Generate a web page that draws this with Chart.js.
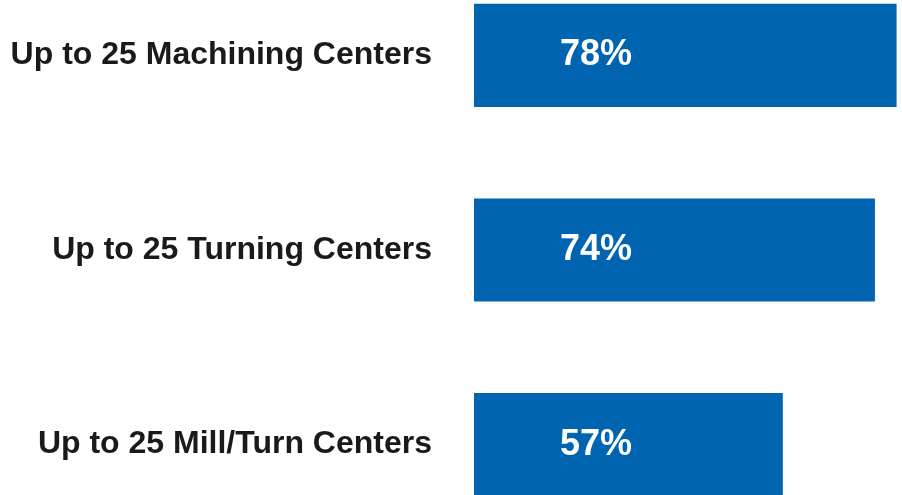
<!DOCTYPE html>
<html>
<head>
<meta charset="utf-8">
<script src="https://cdn.jsdelivr.net/npm/chart.js@4/dist/chart.umd.min.js"></script>
<style>
  html, body { margin: 0; padding: 0; background: #fff; overflow: hidden; }
  #myChart { position: absolute; left: 0; top: -42px; }
</style>
</head>
<body>
<canvas id="myChart" width="902" height="584"></canvas>
<script>
const categories = ['Up to 25 Machining Centers', 'Up to 25 Turning Centers', 'Up to 25 Mill/Turn Centers'];
const shares = [78, 74, 57];

// white percentage text drawn inside each bar, a fixed distance from its start
const valueLabels = {
  id: 'valueLabels',
  afterDatasetsDraw(chart) {
    const ctx = chart.ctx;
    const meta = chart.getDatasetMeta(0);
    ctx.save();
    ctx.fillStyle = '#ffffff';
    ctx.font = 'bold 36px "Liberation Sans", Arial, sans-serif';
    ctx.textAlign = 'left';
    ctx.textBaseline = 'middle';
    meta.data.forEach((bar, i) => {
      ctx.fillText(shares[i] + '%', bar.base + 86, bar.y);
    });
    ctx.restore();
  }
};

new Chart(document.getElementById('myChart').getContext('2d'), {
  type: 'bar',
  data: {
    labels: categories,
    datasets: [{
      data: shares,
      backgroundColor: '#0064b1',
      borderWidth: 0,
      barPercentage: 0.53,
      categoryPercentage: 1
    }]
  },
  options: {
    indexAxis: 'y',
    responsive: false,
    animation: false,
    layout: { padding: 0 },
    plugins: { legend: { display: false }, tooltip: { enabled: false } },
    scales: {
      x: {
        min: 0,
        max: 79,
        display: false
      },
      y: {
        grid: { display: false, drawTicks: false },
        border: { display: false },
        afterFit(scale) {
          scale.width = 474;
          scale.paddingTop = 0;
          scale.paddingBottom = 0;
        },
        ticks: {
          padding: 42,
          color: '#1a1a1a',
          font: { family: '"Liberation Sans", Arial, sans-serif', size: 32, weight: 'bold' }
        }
      }
    }
  },
  plugins: [valueLabels]
});
</script>
</body>
</html>
